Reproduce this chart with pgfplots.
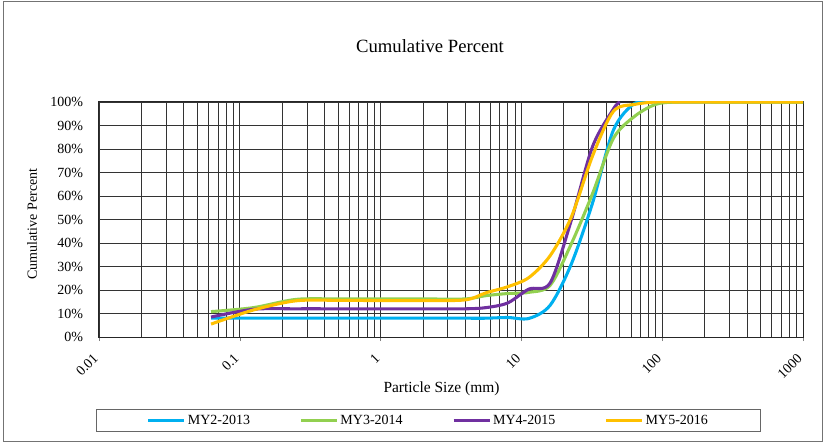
\documentclass[border=0pt]{standalone}
\usepackage{fontspec}
\setmainfont{Liberation Serif}
\usepackage{pgfplots}
\pgfplotsset{compat=1.18}

\definecolor{my2}{RGB}{0,176,240}
\definecolor{my3}{RGB}{146,208,80}
\definecolor{my4}{RGB}{112,48,160}
\definecolor{my5}{RGB}{255,192,0}

\begin{document}
\begin{tikzpicture}[font=\fontsize{10.5}{12}\selectfont]
% page = 823 x 443 px at 0.75pt per px, origin at the axis' lower left corner
\useasboundingbox (-74.25pt,-79.5pt) rectangle (543pt,252.75pt);
\draw[black!55, line width=0.75pt] (-71.25pt,-78pt) rectangle (542.25pt,251.25pt);
\node at (248.25pt,218.25pt) {\fontsize{14}{16}\selectfont Cumulative Percent};

\begin{axis}[
    at={(0pt,0pt)}, anchor=south west,
    scale only axis, width=528pt, height=176.25pt,
    xmode=log, xmin=0.01, xmax=1000,
    ymin=0, ymax=100,
    xtick={0.01,0.1,1,10,100,1000},
    xticklabels={0.01,0.1,1,10,100,1000},
    minor xtick={0.02,0.03,0.04,0.05,0.06,0.07,0.08,0.09,
                 0.2,0.3,0.4,0.5,0.6,0.7,0.8,0.9,
                 2,3,4,5,6,7,8,9,
                 20,30,40,50,60,70,80,90,
                 200,300,400,500,600,700,800,900},
    ytick={0,10,...,100},
    yticklabel={\pgfmathprintnumber{\tick}\%},
    /pgf/number format/assume math mode=true,
    xmajorgrids, xminorgrids, ymajorgrids,
    grid style={black!80, line width=0.6pt},
    minor grid style={black!80, line width=0.6pt},
    axis line style={black!85, line width=0.75pt},
    tick align=outside,
    xtick pos=bottom,
    major tick length=3pt,
    minor tick length=0pt,
    ytick style={draw=none},
    xticklabel style={rotate=45, anchor=east},
    xticklabel shift=9pt,
    yticklabel shift=5.5pt,
    xlabel={\fontsize{11.6}{13}\selectfont Particle Size (mm)},
    ylabel={Cumulative Percent},
    every axis x label/.style={at={(axis description cs:0.4865,-0.221)}, anchor=center},
    every axis y label/.style={at={(axis description cs:-0.095,0.481)}, anchor=center, rotate=90},
    legend columns=4,
    legend style={at={(axis description cs:-0.0043,-0.306)}, anchor=north west,
        draw=black!60, line width=0.75pt, inner xsep=37.75pt, inner ysep=2pt,
        nodes={inner xsep=1.5pt, inner ysep=2pt},
        /tikz/every even column/.append style={column sep=35.5pt}},
    legend image code/.code={\draw[#1] (0pt,0pt) -- (27pt,0pt);},
]

\addplot[my2, line width=2.3pt, smooth] coordinates {
    (0.0625,8) (0.125,8) (0.25,8) (0.5,8) (1,8) (2,8) (4,8) (5.6,8)
    (8,8.3) (11.3,7.9) (16,13.5) (22.6,31) (32,57) (45,88) (64,99.5)
    (90,100) (128,100) (256,100) (512,100) (1000,100)
};
\addlegendentry{MY2-2013}

\addplot[my3, line width=2.3pt, smooth] coordinates {
    (0.0625,10.8) (0.125,12.5) (0.25,16) (0.5,16.2) (1,16.2) (2,16.2) (4,16.2) (5.6,17.6)
    (8,18.5) (11.3,19) (16,22) (22.6,39.6) (32,61) (45,84.5) (64,94)
    (90,99) (128,100) (256,100) (512,100) (1000,100)
};
\addlegendentry{MY3-2014}

\addplot[my4, line width=2.3pt, smooth] coordinates {
    (0.0625,8.5) (0.125,11.8) (0.25,12) (0.5,12) (1,12) (2,12) (4,12) (5.6,12.5)
    (8,14.5) (11.3,20.4) (16,23) (22.6,49.6) (32,81) (45,97) (50,100)
};
\addlegendentry{MY4-2015}

\addplot[my5, line width=2.3pt, smooth] coordinates {
    (0.0625,5.5) (0.125,11.5) (0.25,15.4) (0.5,15.6) (1,15.5) (2,15.5) (4,15.8) (5.6,18.8)
    (8,21.4) (11.3,25.3) (16,34.6) (22.6,51) (32,77) (45,96) (64,99)
    (90,100) (128,100) (256,100) (512,100) (1000,100)
};
\addlegendentry{MY5-2016}

\end{axis}
\end{tikzpicture}
\end{document}
